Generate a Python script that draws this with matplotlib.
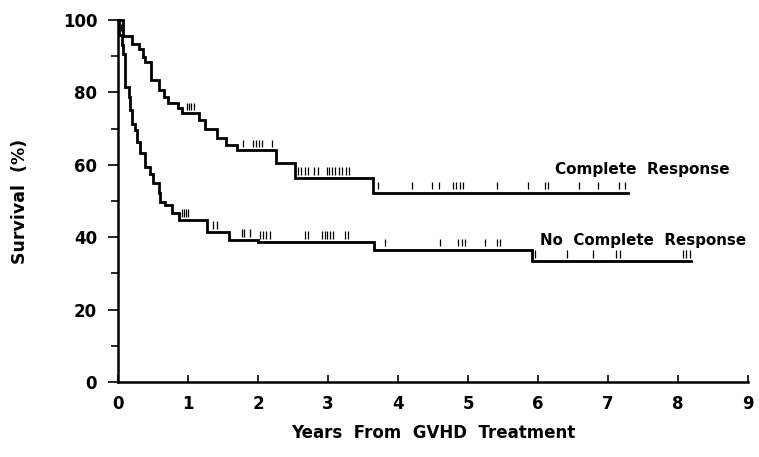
import numpy as np
import matplotlib.pyplot as plt

# Kaplan-Meier steps: (time in years, survival %)
cr_times = [0, 0.07, 0.20, 0.30, 0.35, 0.39, 0.47, 0.58, 0.65, 0.72, 0.86, 0.91,
            1.15, 1.24, 1.41, 1.54, 1.70, 2.26, 2.53, 3.64, 7.29]
cr_surv = [100, 95.6, 93.5, 91.9, 89.9, 88.3, 83.4, 80.7, 78.8, 77.0, 75.6, 74.2,
           72.4, 70.0, 67.3, 65.5, 64.0, 60.5, 56.3, 52.3, 52.3]
cr_censor = [0.03, 0.06, 0.98, 1.01, 1.04, 1.08, 1.79, 1.93, 1.97, 2.01, 2.05, 2.20,
             2.57, 2.62, 2.67, 2.72, 2.80, 2.85, 2.98, 3.02, 3.06, 3.10, 3.15, 3.20,
             3.25, 3.30, 3.71, 4.20, 4.48, 4.58, 4.79, 4.83, 4.88, 4.93, 5.41,
             5.86, 6.10, 6.14, 6.58, 6.86, 7.15, 7.24]

ncr_times = [0, 0.02, 0.05, 0.076, 0.10, 0.15, 0.17, 0.195, 0.24, 0.27, 0.31, 0.39,
             0.46, 0.50, 0.58, 0.60, 0.67, 0.77, 0.87, 1.27, 1.59, 2.0, 3.66, 5.92, 8.19]
ncr_surv = [100, 96, 93, 90.5, 81.6, 78.8, 75.1, 71.4, 69.6, 66.4, 63.2, 59.5,
            57.6, 54.9, 52.1, 49.8, 48.9, 46.6, 44.8, 41.5, 39.2, 38.6, 36.6, 33.4, 33.4]
ncr_censor = [0.01, 0.04, 0.91, 0.94, 0.97, 1.00, 1.36, 1.42, 1.77, 1.80, 1.89,
              2.03, 2.07, 2.11, 2.17, 2.67, 2.71, 2.91, 2.95, 2.99, 3.03, 3.07,
              3.24, 3.29, 3.82, 4.60, 4.86, 4.91, 4.96, 5.24, 5.41, 5.46,
              5.96, 6.41, 6.79, 7.12, 7.17, 8.07, 8.12, 8.17]

x_ticks = list(range(0, 10))
y_ticks = [0, 20, 40, 60, 80, 100]

plt.rcParams['font.family'] = ['DejaVu Sans']
plt.rcParams['font.weight'] = 'bold'

fig = plt.figure(figsize=(7.59, 4.57), dpi=100)
ax = fig.add_axes([0.1555, 0.164, 0.83, 0.792])


def surv_at(times, surv, t):
    idx = np.searchsorted(times, t, side='right') - 1
    return np.array(surv)[idx]


for times, surv, cens in [(cr_times, cr_surv, cr_censor),
                          (ncr_times, ncr_surv, ncr_censor)]:
    ax.step(times, surv, where='post', color='black', linewidth=2.0,
            clip_on=False, solid_joinstyle='miter')
    level = surv_at(times, surv, cens)
    ax.vlines(cens, level + 0.9, level + 3.0, color='black', linewidth=0.9)

ax.text(6.24, 58.6, 'Complete  Response', fontsize=11, fontweight='bold',
        ha='left', va='center')
ax.text(6.03, 39.2, 'No  Complete  Response', fontsize=10.8, fontweight='bold',
        ha='left', va='center')

ax.set_xlim(0, 9)
ax.set_ylim(0, 100)
ax.set_xticks(x_ticks)
ax.set_yticks(y_ticks)
ax.set_yticks([10, 30, 50, 70, 90], minor=True)
ax.set_xticklabels([str(v) for v in x_ticks], fontsize=12, fontweight='bold')
ax.set_yticklabels([str(v) for v in y_ticks], fontsize=12, fontweight='bold')
ax.tick_params(axis='x', direction='in', length=5, width=1.2, pad=9)
ax.tick_params(axis='y', which='major', direction='out', length=7, width=1.2, pad=8)
ax.tick_params(axis='y', which='minor', direction='out', length=5, width=1.2)

for side in ['top', 'right']:
    ax.spines[side].set_visible(False)
for side in ['left', 'bottom']:
    ax.spines[side].set_linewidth(1.8)

ax.set_ylabel('Survival  (%)', fontsize=12.5, fontweight='bold', labelpad=24)
ax.set_xlabel('Years  From  GVHD  Treatment', fontsize=12, fontweight='bold',
              labelpad=8)

fig.savefig('out.png', dpi=100, facecolor='white')
